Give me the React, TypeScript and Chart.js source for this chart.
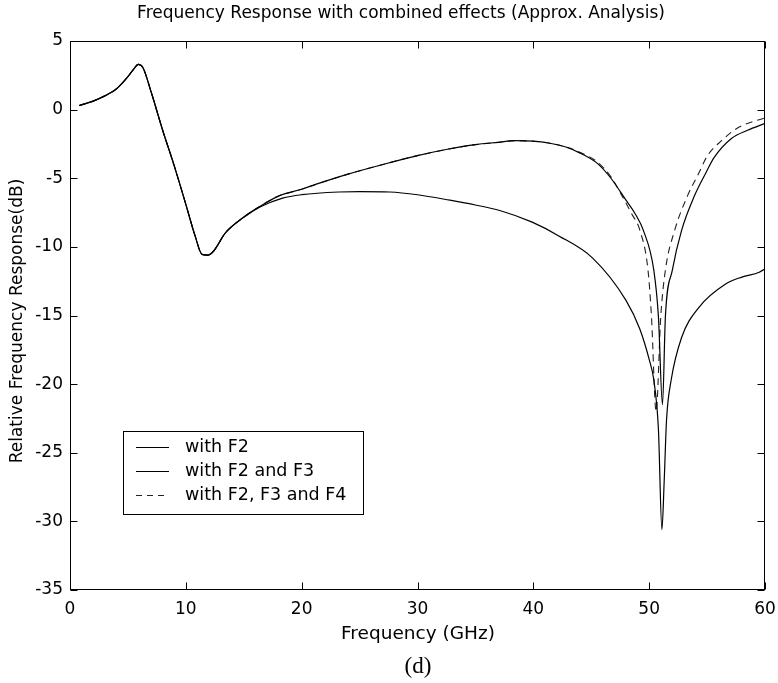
import React, { useEffect, useRef } from "react";
import { Chart, registerables } from "chart.js";

Chart.register(...registerables);

// ---------- text ----------
const TITLE = "Frequency Response with combined effects (Approx. Analysis)";
const X_TITLE = "Frequency (GHz)";
const Y_TITLE = "Relative Frequency Response(dB)";
const CAPTION = "(d)";
const SERIES_LABELS = ["with F2", "with F2 and F3", "with F2, F3 and F4"];

// ---------- ticks ----------
const X_TICKS = [0, 10, 20, 30, 40, 50, 60];
const Y_TICKS = [5, 0, -5, -10, -15, -20, -25, -30, -35];

// ---------- data ----------
// with F2 (lower solid curve)
const freqF2 = [0.8, 2, 3, 4, 5, 5.5, 5.9, 6.3, 7.0, 8.0, 9.0, 10.0, 10.8, 11.4, 11.9, 12.4, 13.4, 14.9, 16.4, 18.35, 20, 23.2, 25, 27.6, 30, 32.8, 35, 37.1, 39.9, 42.2, 45.1, 48.0, 49.2, 50.0, 50.4, 50.8, 51.1, 51.3, 51.5, 51.9, 52.8, 54.3, 56.6, 58, 59.5, 60];
const respF2 = [0.3, 0.62, 1.0, 1.5, 2.4, 2.95, 3.3, 3.05, 1.3, -1.5, -4.1, -6.9, -9.2, -10.55, -10.6, -10.3, -9.0, -7.9, -7.1, -6.45, -6.2, -6.0, -5.97, -6.0, -6.2, -6.6, -6.95, -7.35, -8.2, -9.2, -10.8, -13.9, -16.0, -18.2, -19.7, -23.3, -30.6, -27, -22.6, -19.7, -16.6, -14.4, -12.7, -12.2, -11.85, -11.6];

// with F2 and F3 (upper solid curve)
const freqF23 = [0.8, 2, 3, 4, 5, 5.5, 5.9, 6.3, 7.0, 8.0, 9.0, 10.0, 10.8, 11.4, 11.9, 12.4, 13.4, 14.9, 16.4, 18, 20, 21.2, 24, 27, 30, 32.7, 35, 37, 38.4, 40, 41.3, 42.8, 44, 45.5, 46.7, 48.0, 48.8, 49.5, 50.4, 50.8, 51.15, 51.4, 52.0, 52.8, 53.9, 54.9, 55.6, 57.1, 58.5, 60];
const respF23 = [0.3, 0.62, 1.0, 1.5, 2.4, 2.95, 3.3, 3.05, 1.3, -1.5, -4.1, -6.9, -9.2, -10.55, -10.6, -10.3, -9.0, -7.9, -7.05, -6.3, -5.8, -5.45, -4.7, -4.0, -3.35, -2.87, -2.55, -2.38, -2.26, -2.3, -2.43, -2.72, -3.15, -3.9, -5.0, -6.6, -7.6, -8.8, -11.7, -15.1, -21.5, -15.1, -11.7, -8.8, -6.3, -4.6, -3.5, -2.1, -1.5, -1.0];

// with F2, F3 and F4 (dashed curve)
const freqF234 = [0.8, 2, 3, 4, 5, 5.5, 5.9, 6.3, 7.0, 8.0, 9.0, 10.0, 10.8, 11.4, 11.9, 12.4, 13.4, 14.9, 16.4, 18, 20, 21.2, 24, 27, 30, 32.7, 35, 37, 38.4, 40, 41.3, 42.8, 44, 45.5, 46.7, 47.6, 48.5, 49.2, 49.9, 50.2, 50.6, 51.0, 51.4, 52.2, 53.3, 54.3, 55.0, 56.2, 57.7, 60];
const respF234 = [0.3, 0.62, 1.0, 1.5, 2.4, 2.95, 3.3, 3.05, 1.3, -1.5, -4.1, -6.9, -9.2, -10.55, -10.6, -10.3, -9.0, -7.9, -7.05, -6.3, -5.8, -5.45, -4.7, -4.0, -3.35, -2.87, -2.55, -2.38, -2.26, -2.3, -2.43, -2.72, -3.1, -3.8, -4.9, -6.2, -7.6, -8.8, -11.7, -15.1, -22, -15.1, -11.7, -8.8, -6.3, -4.6, -3.4, -2.3, -1.3, -0.6];

const FONT = '"DejaVu Sans", sans-serif';

const toPoints = (xs: number[], ys: number[]) => xs.map((x, i) => ({ x, y: ys[i] }));

const framePlugin = {
  id: "matlabFrame",
  afterDraw(chart: any) {
    const { ctx, chartArea: a, scales } = chart;
    const xs = scales.x;
    const ys = scales.y;
    ctx.save();
    ctx.strokeStyle = "#000";
    ctx.lineWidth = 1;
    const L = Math.round(a.left) + 0.5;
    const R = Math.round(a.right) - 0.5;
    const T = Math.round(a.top) + 0.5;
    const B = Math.round(a.bottom) - 0.5;
    ctx.strokeRect(L, T, R - L, B - T);
    const TL = 7;
    ctx.beginPath();
    X_TICKS.forEach((v) => {
      const px = Math.round(xs.getPixelForValue(v)) + 0.5;
      ctx.moveTo(px, B);
      ctx.lineTo(px, B - TL);
      ctx.moveTo(px, T);
      ctx.lineTo(px, T + TL);
    });
    Y_TICKS.forEach((v) => {
      const py = Math.round(ys.getPixelForValue(v)) + 0.5;
      ctx.moveTo(L, py);
      ctx.lineTo(L + TL, py);
      ctx.moveTo(R, py);
      ctx.lineTo(R - TL, py);
    });
    ctx.stroke();

    // texts
    ctx.fillStyle = "#000";
    ctx.textBaseline = "middle";
    ctx.textAlign = "center";
    ctx.font = `17px ${FONT}`;
    ctx.fillText(TITLE, 401, 14);
    ctx.font = `18.5px ${FONT}`;
    ctx.fillText(X_TITLE, 418, 634);
    ctx.save();
    ctx.translate(18, 321);
    ctx.rotate(-Math.PI / 2);
    ctx.font = `17px ${FONT}`;
    ctx.fillText(Y_TITLE, 0, 0);
    ctx.restore();
    ctx.font = `23px "Liberation Serif", "Times New Roman", serif`;
    ctx.fillText(CAPTION, 418, 667);

    // legend
    const bx = 123.5, by = 431.5, bw = 240, bh = 83;
    ctx.fillStyle = "#fff";
    ctx.fillRect(bx, by, bw, bh);
    ctx.strokeStyle = "#000";
    ctx.lineWidth = 1;
    ctx.strokeRect(bx, by, bw, bh);
    const rows = [447, 471, 495];
    chart.data.datasets.forEach((ds: any, i: number) => {
      const y = rows[i];
      ctx.save();
      ctx.strokeStyle = ds.borderColor;
      ctx.lineWidth = ds.borderWidth;
      ctx.setLineDash(ds.borderDash ? [6, 5] : []);
      ctx.beginPath();
      ctx.moveTo(136, y + 0.5);
      ctx.lineTo(169, y + 0.5);
      ctx.stroke();
      ctx.restore();
      ctx.fillStyle = "#000";
      ctx.textAlign = "left";
      ctx.textBaseline = "middle";
      ctx.font = `17.5px ${FONT}`;
      ctx.fillText(ds.label, 185, y);
    });
    ctx.restore();
  },
};

export default function App() {
  const canvasRef = useRef<HTMLCanvasElement | null>(null);

  useEffect(() => {
    if (!canvasRef.current) return;
    const chart = new Chart(canvasRef.current, {
      type: "line",
      data: {
        datasets: [
          {
            label: SERIES_LABELS[0],
            data: toPoints(freqF2, respF2),
            borderColor: "#000",
            borderWidth: 1.2,
            pointRadius: 0,
            fill: false,
            cubicInterpolationMode: "monotone",
          },
          {
            label: SERIES_LABELS[1],
            data: toPoints(freqF23, respF23),
            borderColor: "#000",
            borderWidth: 1.2,
            pointRadius: 0,
            fill: false,
            cubicInterpolationMode: "monotone",
          },
          {
            label: SERIES_LABELS[2],
            data: toPoints(freqF234, respF234),
            borderColor: "#222",
            borderWidth: 1.1,
            borderDash: [7, 5],
            pointRadius: 0,
            fill: false,
            cubicInterpolationMode: "monotone",
          },
        ],
      },
      options: {
        responsive: false,
        animation: false,
        devicePixelRatio: 1,
        layout: { padding: { top: 41, right: 13, left: 0, bottom: 0 } },
        plugins: {
          legend: { display: false },
          title: { display: false },
          tooltip: { enabled: false },
        },
        scales: {
          x: {
            type: "linear",
            min: 0,
            max: 60,
            afterBuildTicks: (s: any) => {
              s.ticks = X_TICKS.map((v) => ({ value: v }));
            },
            afterFit: (s: any) => {
              s.height = 93;
              s.paddingLeft = 0;
              s.paddingRight = 0;
            },
            grid: { display: false, drawTicks: false },
            border: { display: false },
            ticks: {
              color: "#000",
              font: { family: FONT, size: 17 },
              padding: 9,
              maxRotation: 0,
              autoSkip: false,
            },
          },
          y: {
            type: "linear",
            min: -35,
            max: 5,
            afterBuildTicks: (s: any) => {
              s.ticks = Y_TICKS.map((v) => ({ value: v }));
            },
            afterFit: (s: any) => {
              s.width = 70;
              s.paddingTop = 0;
              s.paddingBottom = 0;
            },
            grid: { display: false, drawTicks: false },
            border: { display: false },
            ticks: {
              color: "#000",
              font: { family: FONT, size: 17 },
              padding: 7,
              autoSkip: false,
            },
          },
        },
      },
      plugins: [framePlugin],
    } as any);
    return () => chart.destroy();
  }, []);

  return (
    <div style={{ position: "absolute", left: 0, top: 0, width: 778, height: 683, background: "#fff" }}>
      <canvas ref={canvasRef} width={778} height={683} style={{ display: "block" }} />
    </div>
  );
}
